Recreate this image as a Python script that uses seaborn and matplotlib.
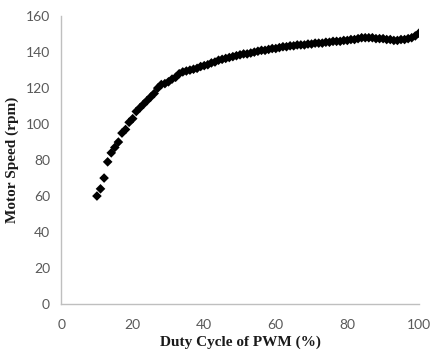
import numpy as np
import pandas as pd
import matplotlib
matplotlib.use('Agg')
import matplotlib.pyplot as plt
import seaborn as sns

duty_cycle = list(range(10, 101))
motor_speed = [
    60, 64, 70, 79, 84, 87, 90, 95, 97, 101,              # 10-19
    103, 107, 109, 111, 113, 115, 117, 120, 122, 122.5,   # 20-29
    123.5, 125, 126, 128, 129, 129.5, 130, 130.5, 131, 132,  # 30-39
    132.5, 133, 134, 134.5, 135.5, 136, 136.5, 137, 137.5, 138,  # 40-49
    138.5, 139, 139, 139.5, 140, 140.5, 141, 141, 141.5, 142,  # 50-59
    142, 142.5, 143, 143, 143.5, 143.5, 144, 144, 144, 144.5,  # 60-69
    144.5, 145, 145, 145, 145.5, 145.5, 146, 146, 146, 146.5,  # 70-79
    146.5, 147, 147, 147.5, 148, 148, 148, 148, 147.5, 147.5,  # 80-89
    147.5, 147, 147, 146.5, 146.5, 147, 147, 147.5, 148, 149,  # 90-99
    150.5,                                                   # 100
]
x_ticks = [0, 20, 40, 60, 80, 100]
y_ticks = [0, 20, 40, 60, 80, 100, 120, 140, 160]

df = pd.DataFrame({'duty': duty_cycle, 'speed': motor_speed})

sns.set_style("white")
plt.rcParams['font.family'] = ['Lato', 'DejaVu Sans']

fig = plt.figure(figsize=(4.4, 3.51), dpi=100)
ax = fig.add_axes([0.139, 0.134, 0.813, 0.820])

sns.scatterplot(x='duty', y='speed', data=df, ax=ax, marker='D', color='black',
                s=24, edgecolor='none', linewidth=0, zorder=3)

ax.set_xlim(0, 100)
ax.set_ylim(0, 160)
ax.set_xticks(x_ticks)
ax.set_yticks(y_ticks)
ax.tick_params(axis='x', length=0, pad=11, labelsize=10, labelcolor='#595959')
ax.tick_params(axis='y', length=0, pad=8, labelsize=10, labelcolor='#595959')

for side in ['top', 'right']:
    ax.spines[side].set_visible(False)
for side in ['left', 'bottom']:
    ax.spines[side].set_color('#bfbfbf')
    ax.spines[side].set_linewidth(1.0)

serif = dict(family='Liberation Serif', fontweight='bold', fontsize=11, color='#1a1a1a')
ax.set_xlabel('Duty Cycle of PWM (%)', labelpad=3, **serif)
ax.set_ylabel('Motor Speed (rpm)', labelpad=5, **serif)

fig.savefig('out.png', dpi=100)
